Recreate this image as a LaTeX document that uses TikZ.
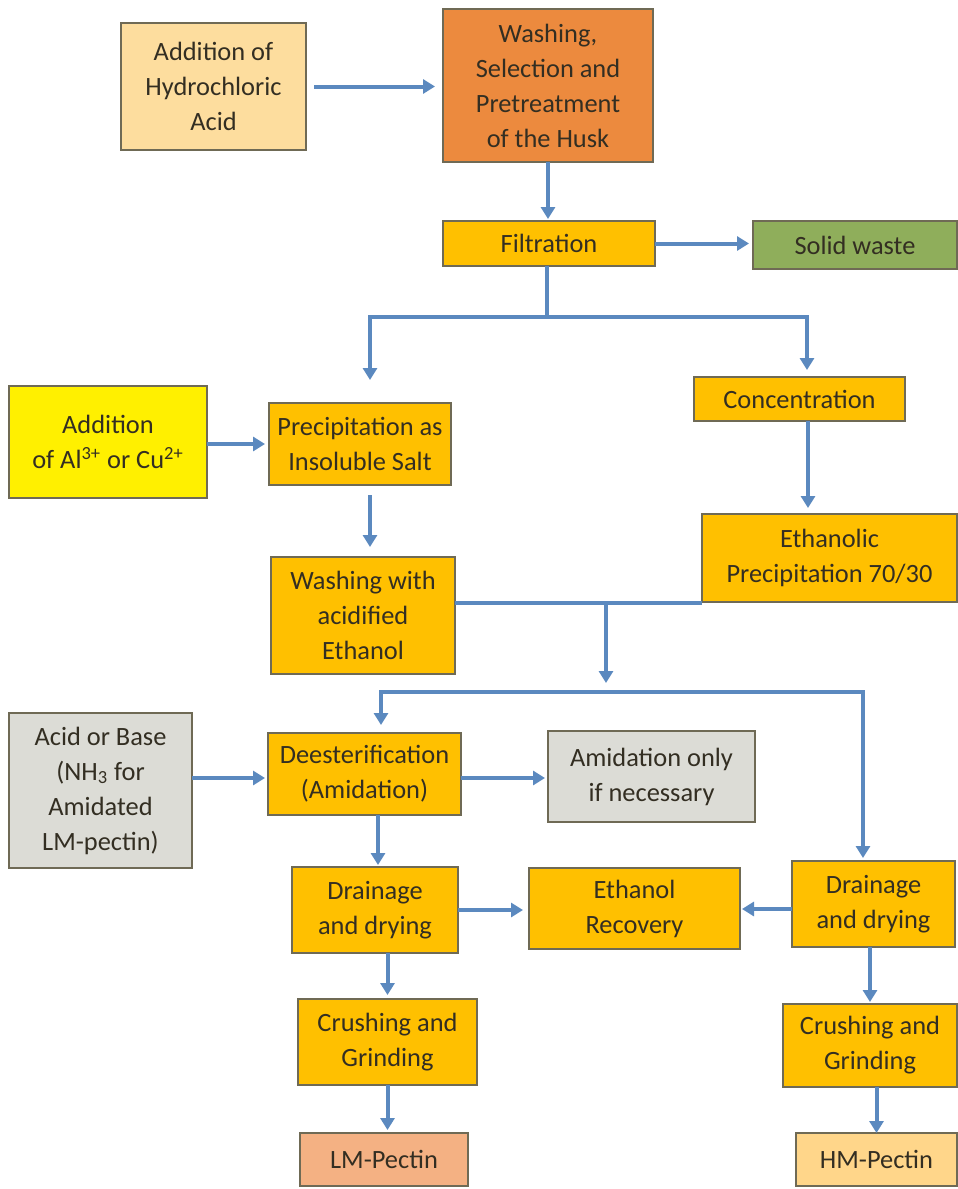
\documentclass[tikz,border=0pt]{standalone}
\usepackage{fontspec}
\setmainfont{Carlito}
\usepackage{tikz}
\usetikzlibrary{positioning, arrows.meta, calc}
\definecolor{flowblue}{HTML}{5B89BF}
\definecolor{boxline}{HTML}{6F6A55}
\definecolor{inkdark}{HTML}{332E22}
\definecolor{hclfill}{HTML}{FDDD9E}
\definecolor{washfill}{HTML}{EC8A3E}
\definecolor{stepfill}{HTML}{FFC000}
\definecolor{wastefill}{HTML}{8FAE5B}
\definecolor{metalfill}{HTML}{FFF000}
\definecolor{greyfill}{HTML}{DCDCD6}
\definecolor{lmfill}{HTML}{F4B183}
\definecolor{hmfill}{HTML}{FFD68A}
\tikzset{
    stage/.style={draw=boxline, line width=0.75pt, rectangle, align=center,
      inner sep=0pt, outer sep=0pt, text=inkdark,
      font=\fontsize{13.2}{17.5}\selectfont},
    boxsize/.style 2 args={minimum width=#1*0.5pt, minimum height=#2*0.5pt},
    link/.style={draw=flowblue, line width=2pt},
    flow/.style={link, -{Triangle[width=7pt,length=6pt]}},
}

\begin{document}
\begin{tikzpicture}[x=0.5pt, y=-0.5pt]
    \fill[white] (0,0) rectangle (958,1189);

    % top part
    \node[stage, fill=hclfill, boxsize={185}{127}] (hcl) at (213.5,86.5) {Addition of\\Hydrochloric\\Acid};
    \node[stage, fill=washfill, boxsize={210}{153}] (wash) at (548,85.5) {Washing,\\Selection and\\Pretreatment\\of the Husk};
    \node[stage, fill=stepfill, boxsize={212}{45}] (filt) at (549,243.5) {Filtration};
    \node[stage, fill=wastefill, boxsize={204}{48}] (waste) at (855,245) {Solid waste};

    \draw[flow, shorten <=4pt, shorten >=4pt] (hcl.east) -- (hcl.east -| wash.west);
    \draw[flow, shorten >=1pt] (wash.south) -- (wash.south |- filt.north);
    \draw[flow, shorten >=2pt] (filt.east) -- (filt.east -| waste.west);

    % two routes
    \node[stage, fill=metalfill, boxsize={198}{112}] (metal) at (108,442) {Addition\\of Al\textsuperscript{3+} or Cu\textsuperscript{2+}};
    \node[stage, fill=stepfill, boxsize={182}{82}] (precip) at (360,444) {Precipitation as\\Insoluble Salt};
    \node[stage, fill=stepfill, boxsize={184}{117}] (washacid) at (363,615.5) {Washing with\\acidified\\Ethanol};
    \node[stage, fill=stepfill, boxsize={211}{44}] (conc) at (799.5,399) {Concentration};
    \node[stage, fill=stepfill, boxsize={255}{88}] (ethprec) at (829.5,558) {Ethanolic\\Precipitation 70/30};

    \coordinate (split1) at (547,317);
    \draw[link] (split1 |- filt.south) -- (split1);
    \draw[flow, shorten >=11.5pt] (split1) -| ([xshift=5pt]precip.north);
    \draw[flow, shorten >=3.5pt] (split1) -| ([xshift=3.75pt]conc.north);
    \draw[flow, shorten >=2pt] (precip.west -| metal.east) -- (precip.west);
    \draw[flow, shorten <=5pt, shorten >=5pt] ([xshift=5pt]precip.south) -- ([xshift=5pt]precip.south |- washacid.north);
    \draw[flow, shorten >=3pt] ([xshift=4.25pt]conc.south) -- ([xshift=4.25pt]conc.south |- ethprec.north);

    \coordinate (merge) at (606,603);
    \coordinate (split2) at (606,692);
    \draw[link] (washacid.east |- merge) -- (merge -| ethprec.west);
    \draw[flow, shorten >=4.5pt] (merge) -- (split2);

    % bottom part
    \node[stage, fill=greyfill, boxsize={183}{155}] (acid) at (100.5,790.5) {Acid or Base\\(NH\textsubscript{3} for\\Amidated\\LM-pectin)};
    \node[stage, fill=stepfill, boxsize={193}{82}] (deest) at (364.5,774) {Deesterification\\(Amidation)};
    \node[stage, fill=greyfill, boxsize={207}{91}] (amid) at (651.5,776.5) {Amidation only\\if necessary};
    \node[stage, fill=stepfill, boxsize={166}{86}] (drainL) at (375,910) {Drainage\\and drying};
    \node[stage, fill=stepfill, boxsize={211}{81}] (recov) at (634.5,908.5) {Ethanol\\Recovery};
    \node[stage, fill=stepfill, boxsize={163}{86}] (drainR) at (873.5,904) {Drainage\\and drying};
    \node[stage, fill=stepfill, boxsize={179}{86}] (crushL) at (387.5,1042) {Crushing and\\Grinding};
    \node[stage, fill=stepfill, boxsize={174}{83}] (crushR) at (870,1045.5) {Crushing and\\Grinding};
    \node[stage, fill=lmfill, boxsize={168}{53}] (lm) at (384,1159.5) {LM-Pectin};
    \node[stage, fill=hmfill, boxsize={161}{53}] (hm) at (876.5,1159.5) {HM-Pectin};

    \draw[flow, shorten >=4pt] (split2) -| ([xshift=8.25pt]deest.north);
    \draw[flow, shorten >=1.5pt] (split2) -| ([xshift=-5.25pt]drainR.north);
    \draw[flow, shorten >=1.5pt] ([yshift=-2pt]deest.west -| acid.east) -- ([yshift=-2pt]deest.west);
    \draw[flow, shorten >=1.5pt] ([yshift=-2pt]deest.east) -- ([yshift=-2pt]deest.east -| amid.west);
    \draw[flow, shorten >=1pt] ([xshift=6.75pt]deest.south) -- ([xshift=6.75pt]deest.south |- drainL.north);
    \draw[flow, shorten >=3pt] (drainL.east) -- (drainL.east -| recov.west);
    \draw[flow, shorten >=1pt] ([yshift=-2.5pt]drainR.west) -- ([yshift=-2.5pt]drainR.west -| recov.east);
    \draw[flow, shorten >=2pt] (crushL.north |- drainL.south) -- (crushL.north);
    \draw[flow, shorten >=1.5pt] (crushL.south) -- (crushL.south |- lm.north);
    \draw[flow, shorten >=1pt] (crushR.north |- drainR.south) -- (crushR.north);
    \draw[flow] (hm.north |- crushR.south) -- (hm.north);
\end{tikzpicture}
\end{document}
